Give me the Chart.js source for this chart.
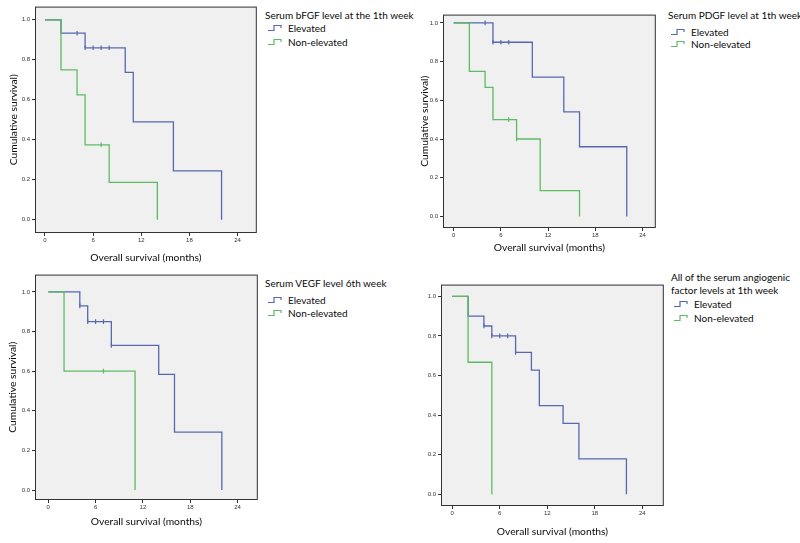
<!DOCTYPE html>
<html>
<head>
<meta charset="utf-8">
<script src="https://cdn.jsdelivr.net/npm/chart.js@4"></script>
<style>
  body { margin: 0; background: #fff; }
  #wrap { position: relative; width: 800px; height: 543px; overflow: hidden; font-family: Lato, "Open Sans", sans-serif; color: #0a0a0a; }
  canvas { position: absolute; }
  .leg { position: absolute; font-size: 10px; line-height: 12px; white-space: nowrap; }
  .leg svg { position: absolute; }
</style>
</head>
<body>
<div id="wrap"></div>
<script>
const monthTicks = [0, 6, 12, 18, 24];
const survTicks = [0, 0.2, 0.4, 0.6, 0.8, 1.0];

// serum bFGF, 1st week
const bfgfElevT = [0, 2, 5, 10, 11, 16, 22];
const bfgfElevS = [1, 0.933, 0.86, 0.737, 0.49, 0.245, 0];
const bfgfElevCensT = [4, 5, 6, 7, 8];
const bfgfElevCensS = [0.933, 0.86, 0.86, 0.86, 0.86];
const bfgfNonT = [0, 2, 4, 5, 8, 14];
const bfgfNonS = [1, 0.75, 0.625, 0.375, 0.1875, 0];
const bfgfNonCensT = [7];
const bfgfNonCensS = [0.375];

// serum PDGF, 1st week
const pdgfElevT = [0, 5, 10, 14, 16, 22];
const pdgfElevS = [1, 0.9, 0.72, 0.54, 0.36, 0];
const pdgfElevCensT = [4, 5, 6, 7];
const pdgfElevCensS = [1, 0.9, 0.9, 0.9];
const pdgfNonT = [0, 2, 4, 5, 8, 11, 16];
const pdgfNonS = [1, 0.75, 0.667, 0.5, 0.4, 0.133, 0];
const pdgfNonCensT = [7, 8];
const pdgfNonCensS = [0.5, 0.4];

// serum VEGF, 6th week
const vegfElevT = [0, 4, 5, 8, 14, 16, 22];
const vegfElevS = [1, 0.929, 0.85, 0.73, 0.584, 0.292, 0];
const vegfElevCensT = [4, 5, 6, 7, 8];
const vegfElevCensS = [0.929, 0.85, 0.85, 0.85, 0.73];
const vegfNonT = [0, 2, 11];
const vegfNonS = [1, 0.6, 0];
const vegfNonCensT = [7];
const vegfNonCensS = [0.6];

// all angiogenic factors, 1st week
const allElevT = [0, 2, 4, 5, 8, 10, 11, 14, 16, 22];
const allElevS = [1, 0.9, 0.85, 0.8, 0.717, 0.627, 0.448, 0.358, 0.179, 0];
const allElevCensT = [4, 5, 6, 7, 8];
const allElevCensS = [0.85, 0.8, 0.8, 0.8, 0.717];
const allNonT = [0, 2, 5];
const allNonS = [1, 0.667, 0];

const BLUE = '#5767b0';
const GREEN = '#5dbb63';
const pts = (t, s) => t.map((v, i) => ({ x: v, y: s[i] }));

const panels = [
  { box: [35, 5, 258, 233], x: [-1.24, 26.39], y: [-0.066, 1.066], yTitle: 13, xTitle: 258,
    title: ['Serum bFGF level at the 1th week'], legX: 265, titleY: [15], entryY: [28, 42],
    elev: [bfgfElevT, bfgfElevS, bfgfElevCensT, bfgfElevCensS],
    non: [bfgfNonT, bfgfNonS, bfgfNonCensT, bfgfNonCensS] },
  { box: [443, 13, 657, 228], x: [-1.35, 25.69], y: [-0.06, 1.043], yTitle: 424, xTitle: 248,
    title: ['Serum PDGF level at 1th week'], legX: 668, titleY: [15], entryY: [32, 44],
    elev: [pdgfElevT, pdgfElevS, pdgfElevCensT, pdgfElevCensS],
    non: [pdgfNonT, pdgfNonS, pdgfNonCensT, pdgfNonCensS] },
  { box: [35, 273, 259, 500], x: [-1.68, 26.56], y: [-0.05, 1.087], yTitle: 12, xTitle: 522,
    title: ['Serum VEGF level 6th week'], legX: 265, titleY: [283], entryY: [300, 313],
    elev: [vegfElevT, vegfElevS, vegfElevCensT, vegfElevCensS],
    non: [vegfNonT, vegfNonS, vegfNonCensT, vegfNonCensS] },
  { box: [441, 283, 665, 506], x: [-1.42, 26.72], y: [-0.059, 1.059], yTitle: null, xTitle: 532,
    title: ['All of the serum angiogenic', 'factor levels at 1th week'], legX: 671, titleY: [277, 290], entryY: [304, 318],
    elev: [allElevT, allElevS, allElevCensT, allElevCensS],
    non: [allNonT, allNonS, [], []] }
];

const boxPlugin = {
  id: 'box',
  beforeDatasetsDraw(chart) {
    const a = chart.chartArea, ctx = chart.ctx;
    ctx.save();
    ctx.fillStyle = '#f0f0f0';
    ctx.fillRect(a.left, a.top, a.right - a.left, a.bottom - a.top);
    ctx.restore();
  },
  afterDraw(chart) {
    const a = chart.chartArea, ctx = chart.ctx;
    ctx.save();
    ctx.strokeStyle = '#333';
    ctx.lineWidth = 1;
    ctx.strokeRect(a.left + 0.5, a.top + 0.5, a.right - a.left - 1, a.bottom - a.top - 1);
    ctx.restore();
  }
};

const wrap = document.getElementById('wrap');
const YW = 35;

panels.forEach(p => {
  const [l, t, r, b] = p.box;
  const padTop = 4, padRight = 4;
  const cl = l - YW, ct = t - padTop;
  const xh = p.xTitle - b + 7;
  const cv = document.createElement('canvas');
  cv.width = YW + (r - l) + padRight;
  cv.height = padTop + (b - t) + xh;
  cv.style.left = cl + 'px';
  cv.style.top = ct + 'px';
  wrap.appendChild(cv);

  const lineSet = (d, color) => ({
    data: pts(d[0], d[1]), stepped: true, borderColor: color, borderWidth: 1.3,
    pointRadius: 0, fill: false
  });
  const censSet = (d, color) => ({
    data: pts(d[2], d[3]), showLine: false, pointStyle: 'line', rotation: 90,
    pointRadius: 2.3, borderColor: color, pointBorderWidth: 1.2, pointBorderColor: color
  });

  new Chart(cv, {
    type: 'line',
    data: { datasets: [lineSet(p.non, GREEN), censSet(p.non, GREEN), lineSet(p.elev, BLUE), censSet(p.elev, BLUE)] },
    options: {
      responsive: false, animation: false, events: [],
      layout: { padding: { top: padTop, right: padRight, left: 0, bottom: 0 } },
      plugins: { legend: { display: false }, tooltip: { enabled: false } },
      scales: {
        x: {
          type: 'linear', min: p.x[0], max: p.x[1],
          afterBuildTicks: ax => { ax.ticks = monthTicks.map(v => ({ value: v })); },
          afterFit: ax => { ax.height = xh; },
          grid: { drawOnChartArea: false, tickLength: 3, color: '#333' },
          border: { display: false },
          ticks: { font: { size: 6, family: 'Arial' }, color: '#333', padding: 1, maxRotation: 0 },
          title: { display: true, text: 'Overall survival (months)', font: { size: 10.3, family: 'Lato' }, color: '#0a0a0a', padding: { top: 0, bottom: 1 } }
        },
        y: {
          min: p.y[0], max: p.y[1],
          afterBuildTicks: ax => { ax.ticks = survTicks.map(v => ({ value: v })); },
          afterFit: ax => { ax.width = YW; },
          grid: { drawOnChartArea: false, tickLength: 3, color: '#333' },
          border: { display: false },
          ticks: { font: { size: 6, family: 'Arial' }, color: '#333', padding: 2, callback: v => v.toFixed(1) },
          title: { display: p.yTitle !== null, text: 'Cumulative survival)', font: { size: 10.3, family: 'Lato' }, color: '#0a0a0a',
                   padding: { top: p.yTitle === null ? 0 : p.yTitle - cl - 6, bottom: 0 } }
        }
      }
    },
    plugins: [boxPlugin]
  });

  // legend block beside each plot
  p.title.forEach((txt, i) => {
    const d = document.createElement('div');
    d.className = 'leg';
    d.textContent = txt;
    d.style.left = p.legX + 'px';
    d.style.top = (p.titleY[i] - 6) + 'px';
    wrap.appendChild(d);
  });
  [['Elevated', BLUE], ['Non-elevated', GREEN]].forEach(([txt, col], i) => {
    const y = p.entryY[i];
    const s = document.createElementNS('http://www.w3.org/2000/svg', 'svg');
    s.setAttribute('width', 15); s.setAttribute('height', 8);
    s.style.position = 'absolute';
    s.style.left = (p.legX + 3) + 'px';
    s.style.top = (y - 4) + 'px';
    s.innerHTML = '<polyline points="0,6.5 6,6.5 6,1.5 13,1.5 13,4" fill="none" stroke="' + col + '" stroke-width="1.2"/>';
    wrap.appendChild(s);
    const d = document.createElement('div');
    d.className = 'leg';
    d.textContent = txt;
    d.style.left = (p.legX + 23) + 'px';
    d.style.top = (y - 6) + 'px';
    wrap.appendChild(d);
  });
});
</script>
</body>
</html>
